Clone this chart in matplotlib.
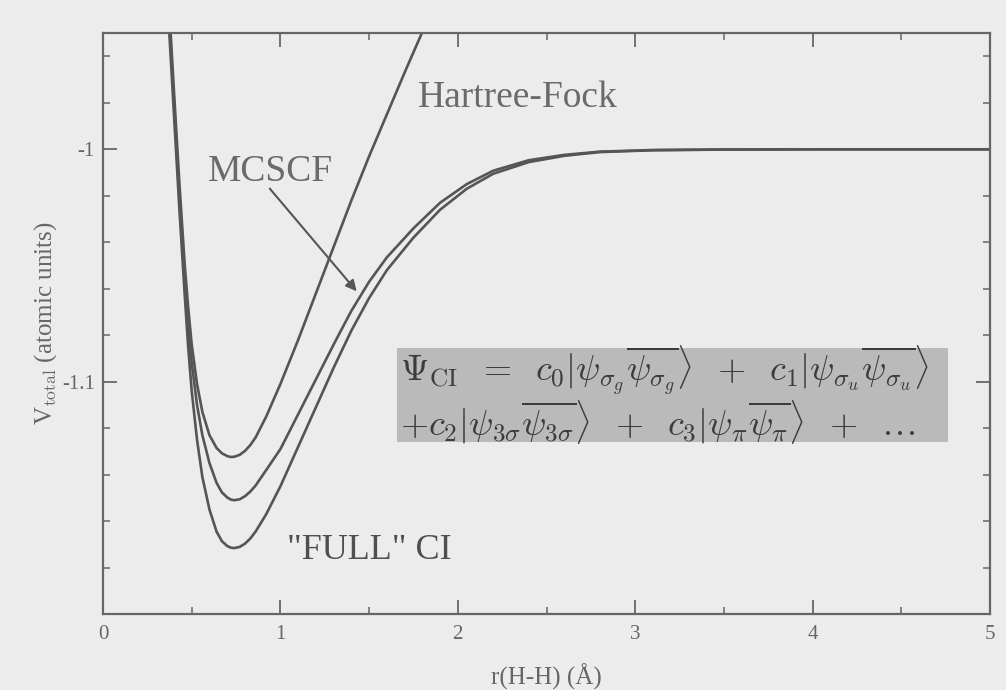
import matplotlib
matplotlib.use('Agg')
import matplotlib.pyplot as plt
from matplotlib.patches import Rectangle
from matplotlib.ticker import MultipleLocator

plt.rcParams['font.family'] = 'Liberation Serif'
plt.rcParams['mathtext.fontset'] = 'cm'

# H-H distance (Angstrom) and total energy (hartree) for each method
r_ci = [0.37, 0.40, 0.43, 0.46, 0.48, 0.50, 0.53, 0.56, 0.60, 0.64, 0.67, 0.70,
        0.72, 0.74, 0.77, 0.80, 0.83, 0.86, 0.92, 1.00, 1.10, 1.20, 1.30, 1.40,
        1.50, 1.60, 1.75, 1.90, 2.05, 2.20, 2.40, 2.60, 2.80, 3.10, 3.50, 4.00, 5.00]
e_full_ci = [-0.945, -0.985, -1.025, -1.062, -1.085, -1.104, -1.125, -1.141, -1.155,
             -1.1645, -1.1686, -1.1707, -1.1714, -1.1716, -1.1711, -1.1697, -1.1675,
             -1.1645, -1.157, -1.145, -1.128, -1.111, -1.094, -1.078, -1.064, -1.052,
             -1.038, -1.026, -1.017, -1.0105, -1.0055, -1.0028, -1.0012, -1.0004,
             -1.0001, -1.0, -1.0]
e_mcscf = [-0.940, -0.980, -1.020, -1.056, -1.076, -1.092, -1.110, -1.123, -1.135,
           -1.1435, -1.1476, -1.1498, -1.1507, -1.1510, -1.1506, -1.1493, -1.1473,
           -1.1447, -1.138, -1.129, -1.114, -1.099, -1.084, -1.0695, -1.057, -1.0465,
           -1.034, -1.023, -1.015, -1.0092, -1.0047, -1.0024, -1.001, -1.0003,
           -1.0001, -1.0, -1.0]

r_hf = [0.37, 0.40, 0.43, 0.46, 0.48, 0.50, 0.53, 0.56, 0.60, 0.64, 0.67, 0.70,
        0.72, 0.74, 0.77, 0.80, 0.83, 0.86, 0.92, 1.00, 1.10, 1.20, 1.30, 1.40,
        1.50, 1.60, 1.70, 1.82]
e_hf = [-0.935, -0.975, -1.014, -1.049, -1.068, -1.084, -1.101, -1.113, -1.123,
        -1.1285, -1.1308, -1.1320, -1.1324, -1.1323, -1.1315, -1.1298, -1.1273,
        -1.1240, -1.1150, -1.101, -1.082, -1.062, -1.042, -1.022, -1.003, -0.985,
        -0.967, -0.946]

x_ticks = [0, 1, 2, 3, 4, 5]
y_ticks = [-1.1, -1.0]
y_tick_labels = ['-1.1', '-1']

bg = '#ececec'
ink = '#555555'
axis_grey = '#666666'

fig = plt.figure(figsize=(10.06, 6.9), dpi=100, facecolor=bg)
ax = fig.add_axes([0.1024, 0.110, 0.8817, 0.842])
ax.set_facecolor(bg)

ax.plot(r_hf, e_hf, color=ink, lw=1.9)
ax.plot(r_ci, e_mcscf, color=ink, lw=1.9)
ax.plot(r_ci, e_full_ci, color=ink, lw=1.9)

ax.set_xlim(0, 5)
ax.set_ylim(-1.2, -0.95)
ax.set_xticks(x_ticks)
ax.set_xticklabels([str(t) for t in x_ticks])
ax.set_yticks(y_ticks)
ax.set_yticklabels(y_tick_labels)
ax.xaxis.set_minor_locator(MultipleLocator(0.5))
ax.yaxis.set_minor_locator(MultipleLocator(0.02))
ax.tick_params(which='both', direction='in', top=True, right=True,
               color=axis_grey, labelcolor=axis_grey, labelsize=15)
ax.tick_params(which='major', length=10, width=1.3)
ax.tick_params(which='minor', length=5, width=1.1)
ax.tick_params(axis='x', pad=8)
ax.tick_params(axis='y', pad=6)
for s in ax.spines.values():
    s.set_color(axis_grey)
    s.set_linewidth(1.6)

ax.set_xlabel('r(H-H) (Å)', fontsize=18, color=axis_grey, labelpad=14)
ax.set_ylabel(r'V$_{\mathrm{total}}$ (atomic units)', fontsize=18,
              color=axis_grey, labelpad=2)

# curve labels
ax.text(1.776, -0.9776, 'Hartree-Fock', fontsize=27, color='#6a6a6a', va='center')
ax.text(0.592, -1.0095, 'MCSCF', fontsize=27, color='#6a6a6a', va='center')
ax.text(1.037, -1.1728, '"FULL" CI', fontsize=26, color='#4f4f4f', va='center')
ax.annotate('', xy=(1.44, -1.062), xytext=(0.93, -1.016),
            arrowprops=dict(arrowstyle='-|>', color=ink, lw=1.5, mutation_scale=16))

# CI expansion in a shaded box
ax.add_patch(Rectangle((1.657, -1.1259), 3.106, 0.0406, facecolor='#bababa',
                       edgecolor='none', zorder=3))
ax.text(1.672, -1.0952,
        r'$\Psi_{\mathrm{CI}}\;\;=\;\;c_0|\psi_{\sigma_g}\overline{\psi_{\sigma_g}}\rangle'
        r'\;\;+\;\;c_1|\psi_{\sigma_u}\overline{\psi_{\sigma_u}}\rangle$',
        fontsize=26, color='#3c3c3c', va='center', zorder=4)
ax.text(1.672, -1.1172,
        r'$+c_2|\psi_{3\sigma}\overline{\psi_{3\sigma}}\rangle'
        r'\;\;+\;\;c_3|\psi_{\pi}\overline{\psi_{\pi}}\rangle\;\;+\;\;\ldots$',
        fontsize=26, color='#3c3c3c', va='center', zorder=4)

fig.savefig('out.png', dpi=100, facecolor=bg)
